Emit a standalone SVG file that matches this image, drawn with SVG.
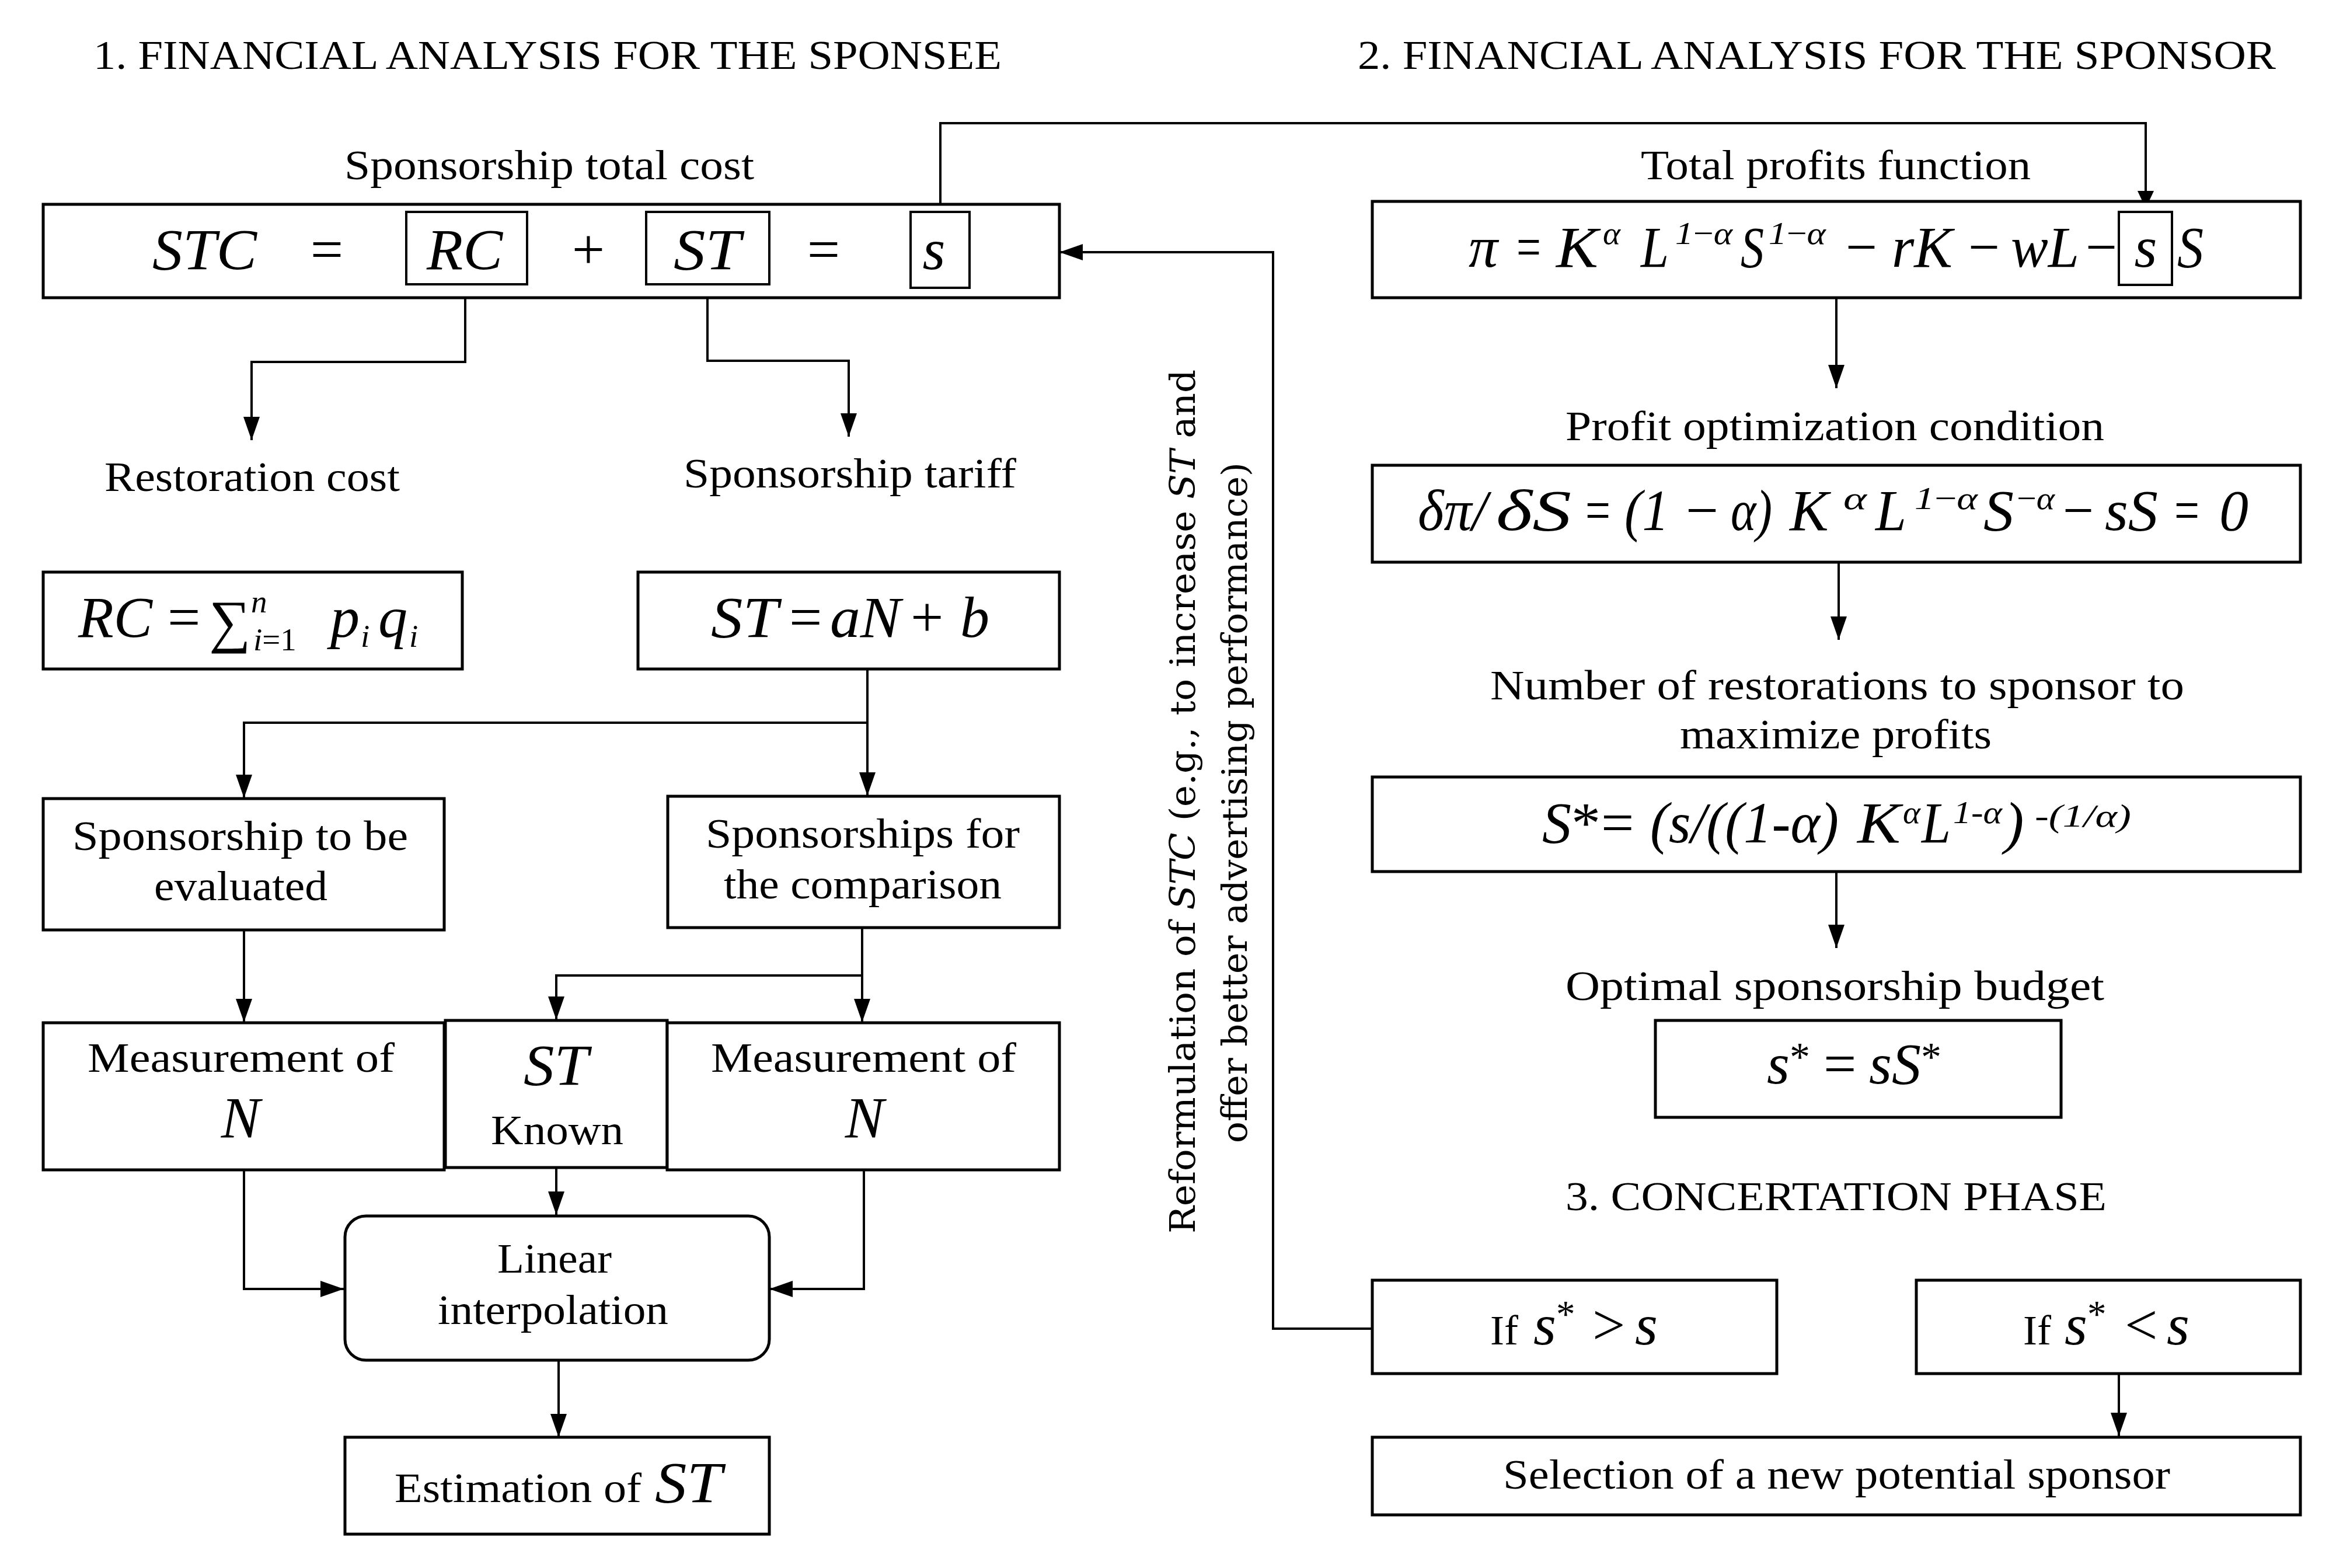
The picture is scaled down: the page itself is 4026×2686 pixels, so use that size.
<svg xmlns="http://www.w3.org/2000/svg" width="4026" height="2686" viewBox="0 0 4026 2686">
<style>
text{font-family:"Liberation Serif","Times New Roman",serif;fill:#000}
.t{font-size:70px}
.l{font-size:72px}
.m{font-size:100px;font-style:italic}
.r{font-style:normal}
.sp{font-size:55px;font-style:italic}
.rot{font-family:"DejaVu Serif","Liberation Serif",serif;font-size:60px}
.box{fill:#fff;stroke:#000;stroke-width:5}
.ib{fill:none;stroke:#000;stroke-width:4}
.c{fill:none;stroke:#000;stroke-width:4}
</style>
<defs>
<marker id="ah" markerUnits="userSpaceOnUse" viewBox="0 0 40 28" markerWidth="40" markerHeight="28" refX="40" refY="14" orient="auto">
<path d="M0,0 L40,14 L0,28 z" fill="#000"/>
</marker>
</defs>
<rect width="4026" height="2686" fill="#fff"/>

<g id="titles">
<text class="t" x="160" y="118" textLength="1556" lengthAdjust="spacingAndGlyphs">1. FINANCIAL ANALYSIS FOR THE SPONSEE</text>
<text class="t" x="2326" y="118" textLength="1573" lengthAdjust="spacingAndGlyphs">2. FINANCIAL ANALYSIS FOR THE SPONSOR</text>
<text class="t" x="2682" y="2073" textLength="927" lengthAdjust="spacingAndGlyphs">3. CONCERTATION PHASE</text>
</g>

<g id="connectors">
<path class="c" d="M1611,363 V211 H3676 V355"/>
<path class="c" d="M3676,345 V363"/>
<polygon points="3662,327 3690,327 3676,357" fill="#000"/>
<path class="c" d="M2351,2276 H2181 V432 H1815" marker-end="url(#ah)"/>
<path class="c" d="M797,487 V620 H431 V754" marker-end="url(#ah)"/>
<path class="c" d="M1212,487 V618 H1454 V748" marker-end="url(#ah)"/>
<path class="c" d="M1486,1146 V1238 H418 V1367" marker-end="url(#ah)"/>
<path class="c" d="M1486,1238 V1363" marker-end="url(#ah)"/>
<path class="c" d="M418,1593 V1751" marker-end="url(#ah)"/>
<path class="c" d="M1477,1589 V1751" marker-end="url(#ah)"/>
<path class="c" d="M1477,1671 H953 V1747" marker-end="url(#ah)"/>
<path class="c" d="M418,2004 V2208 H589" marker-end="url(#ah)"/>
<path class="c" d="M953,2000 V2081" marker-end="url(#ah)"/>
<path class="c" d="M1480,2004 V2208 H1318" marker-end="url(#ah)"/>
<path class="c" d="M957,2330 V2462" marker-end="url(#ah)"/>
<path class="c" d="M3146,510 V665" marker-end="url(#ah)"/>
<path class="c" d="M3150,963 V1096" marker-end="url(#ah)"/>
<path class="c" d="M3146,1493 V1624" marker-end="url(#ah)"/>
<path class="c" d="M3630,2353 V2460" marker-end="url(#ah)"/>
</g>

<g id="feedback-label">
<text class="rot" transform="translate(2047,2113) rotate(-90)" x="0" y="0" textLength="1480" lengthAdjust="spacingAndGlyphs">Reformulation of <tspan font-style="italic">STC</tspan> (e.g., to increase <tspan font-style="italic">ST</tspan> and</text>
<text class="rot" transform="translate(2136,1958) rotate(-90)" x="0" y="0" textLength="1166" lengthAdjust="spacingAndGlyphs">offer better advertising performance)</text>
</g>

<g id="stc">
<text class="l" x="590" y="307" textLength="702" lengthAdjust="spacingAndGlyphs">Sponsorship total cost</text>
<rect class="box" x="74" y="350" width="1741" height="160"/>
<rect class="ib" x="696" y="363" width="207" height="124"/>
<rect class="ib" x="1107" y="363" width="211" height="124"/>
<rect class="ib" x="1560" y="363" width="101" height="130"/>
<text class="m" x="261" y="461" textLength="179" lengthAdjust="spacingAndGlyphs">STC</text>
<text class="m r" x="560" y="461" text-anchor="middle">=</text>
<text class="m" x="731" y="461" textLength="130" lengthAdjust="spacingAndGlyphs">RC</text>
<text class="m r" x="1008" y="461" text-anchor="middle">+</text>
<text class="m" x="1154" y="461" textLength="115" lengthAdjust="spacingAndGlyphs">ST</text>
<text class="m r" x="1411" y="461" text-anchor="middle">=</text>
<text class="m" x="1600" y="461" text-anchor="middle">s</text>
</g>

<g id="restoration-cost">
<text class="l" x="179" y="841" textLength="506" lengthAdjust="spacingAndGlyphs">Restoration cost</text>
</g>
<g id="sponsorship-tariff">
<text class="l" x="1171" y="835" textLength="570" lengthAdjust="spacingAndGlyphs">Sponsorship tariff</text>
</g>

<g id="rc-formula">
<rect class="box" x="74" y="980" width="718" height="166"/>
<text class="m" x="134" y="1091" textLength="127" lengthAdjust="spacingAndGlyphs">RC</text>
<text class="m r" x="287" y="1091">=</text>
<text class="m r" x="358" y="1098" font-size="90">∑</text>
<text class="sp" x="430" y="1049">n</text>
<text class="sp" x="434" y="1114">i<tspan class="r">=</tspan><tspan class="r">1</tspan></text>
<text class="m" x="566" y="1091">p</text>
<text class="sp" x="618" y="1108" font-size="50">i</text>
<text class="m" x="648" y="1091">q</text>
<text class="sp" x="701" y="1108" font-size="50">i</text>
</g>

<g id="st-formula">
<rect class="box" x="1093" y="980" width="722" height="166"/>
<text class="m" x="1218" y="1091" textLength="115" lengthAdjust="spacingAndGlyphs">ST</text>
<text class="m r" x="1352" y="1091">=</text>
<text class="m" x="1422" y="1091" textLength="121" lengthAdjust="spacingAndGlyphs">aN</text>
<text class="m r" x="1560" y="1091">+</text>
<text class="m" x="1645" y="1091">b</text>
</g>

<g id="to-be-evaluated">
<rect class="box" x="74" y="1368" width="687" height="225"/>
<text class="l" x="124" y="1456" textLength="575" lengthAdjust="spacingAndGlyphs">Sponsorship to be</text>
<text class="l" x="264" y="1542" textLength="297" lengthAdjust="spacingAndGlyphs">evaluated</text>
</g>

<g id="for-comparison">
<rect class="box" x="1144" y="1364" width="671" height="225"/>
<text class="l" x="1209" y="1452" textLength="538" lengthAdjust="spacingAndGlyphs">Sponsorships for</text>
<text class="l" x="1240" y="1539" textLength="476" lengthAdjust="spacingAndGlyphs">the comparison</text>
</g>

<g id="measurement-left">
<rect class="box" x="74" y="1752" width="687" height="252"/>
<text class="l" x="150" y="1836" textLength="526" lengthAdjust="spacingAndGlyphs">Measurement of</text>
<text class="m" x="412" y="1948" text-anchor="middle">N</text>
</g>

<g id="st-known">
<rect class="box" x="763" y="1748" width="380" height="252"/>
<text class="m" x="897" y="1858" textLength="111" lengthAdjust="spacingAndGlyphs">ST</text>
<text class="l" x="841" y="1960" textLength="227" lengthAdjust="spacingAndGlyphs">Known</text>
</g>

<g id="measurement-right">
<rect class="box" x="1143" y="1752" width="672" height="252"/>
<text class="l" x="1218" y="1836" textLength="523" lengthAdjust="spacingAndGlyphs">Measurement of</text>
<text class="m" x="1481" y="1948" text-anchor="middle">N</text>
</g>

<g id="linear-interpolation">
<rect class="box" x="591" y="2083" width="727" height="247" rx="36" ry="36"/>
<text class="l" x="852" y="2180" textLength="196" lengthAdjust="spacingAndGlyphs">Linear</text>
<text class="l" x="750" y="2268" textLength="395" lengthAdjust="spacingAndGlyphs">interpolation</text>
</g>

<g id="estimation">
<rect class="box" x="591" y="2462" width="727" height="166"/>
<text class="l" x="676" y="2573" textLength="423" lengthAdjust="spacingAndGlyphs">Estimation of</text>
<text class="m" x="1122" y="2573" textLength="115" lengthAdjust="spacingAndGlyphs">ST</text>
</g>

<g id="profit-function">
<text class="l" x="2811" y="307" textLength="668" lengthAdjust="spacingAndGlyphs">Total profits function</text>
<rect class="box" x="2351" y="345" width="1590" height="165"/>
<rect class="ib" x="3630" y="363" width="91" height="125"/>
<text class="m" x="2516" y="457" textLength="50" lengthAdjust="spacingAndGlyphs">π</text>
<text class="m r" x="2598" y="457" textLength="42" lengthAdjust="spacingAndGlyphs">=</text>
<text class="m" x="2666" y="457" textLength="72" lengthAdjust="spacingAndGlyphs">K</text>
<text class="sp" x="2746" y="418" textLength="30" lengthAdjust="spacingAndGlyphs">α</text>
<text class="m" x="2811" y="457" textLength="48" lengthAdjust="spacingAndGlyphs">L</text>
<text class="sp" x="2870" y="418" textLength="98" lengthAdjust="spacingAndGlyphs">1<tspan class="r">−</tspan>α</text>
<text class="m" x="2982" y="457" textLength="40" lengthAdjust="spacingAndGlyphs">S</text>
<text class="sp" x="3030" y="418" textLength="98" lengthAdjust="spacingAndGlyphs">1<tspan class="r">−</tspan>α</text>
<text class="m r" x="3162" y="457" textLength="54" lengthAdjust="spacingAndGlyphs">−</text>
<text class="m" x="3241" y="457" textLength="104" lengthAdjust="spacingAndGlyphs">rK</text>
<text class="m r" x="3372" y="457" textLength="54" lengthAdjust="spacingAndGlyphs">−</text>
<text class="m" x="3445" y="457" textLength="117" lengthAdjust="spacingAndGlyphs">wL</text>
<text class="m r" x="3573" y="457" textLength="54" lengthAdjust="spacingAndGlyphs">−</text>
<text class="m" x="3676" y="457" text-anchor="middle">s</text>
<text class="m" x="3730" y="457" textLength="45" lengthAdjust="spacingAndGlyphs">S</text>
</g>

<g id="optimization-condition">
<text class="l" x="2682" y="754" textLength="923" lengthAdjust="spacingAndGlyphs">Profit optimization condition</text>
<rect class="box" x="2351" y="797" width="1590" height="166"/>
<text class="m" x="2429" y="908" textLength="119" lengthAdjust="spacingAndGlyphs">δπ/</text>
<text class="m" x="2563" y="908" textLength="129" lengthAdjust="spacingAndGlyphs">δS</text>
<text class="m r" x="2716" y="908" textLength="43" lengthAdjust="spacingAndGlyphs">=</text>
<text class="m" x="2783" y="908" textLength="76" lengthAdjust="spacingAndGlyphs">(1</text>
<text class="m r" x="2888" y="908" textLength="56" lengthAdjust="spacingAndGlyphs">−</text>
<text class="m" x="2965" y="908" textLength="71" lengthAdjust="spacingAndGlyphs">α)</text>
<text class="m" x="3066" y="908">K</text>
<text class="sp" x="3158" y="872" textLength="40" lengthAdjust="spacingAndGlyphs">α</text>
<text class="m" x="3213" y="908" textLength="53" lengthAdjust="spacingAndGlyphs">L</text>
<text class="sp" x="3280" y="872" textLength="108" lengthAdjust="spacingAndGlyphs">1<tspan class="r">−</tspan>α</text>
<text class="m" x="3398" y="908" textLength="52" lengthAdjust="spacingAndGlyphs">S</text>
<text class="sp" x="3455" y="872" textLength="65" lengthAdjust="spacingAndGlyphs"><tspan class="r">−</tspan>α</text>
<text class="m r" x="3534" y="908" textLength="53" lengthAdjust="spacingAndGlyphs">−</text>
<text class="m" x="3606" y="908" textLength="91" lengthAdjust="spacingAndGlyphs">sS</text>
<text class="m r" x="3725" y="908" textLength="43" lengthAdjust="spacingAndGlyphs">=</text>
<text class="m" x="3802" y="908">0</text>
</g>

<g id="optimal-restorations">
<text class="l" x="2553" y="1198" textLength="1189" lengthAdjust="spacingAndGlyphs">Number of restorations to sponsor to</text>
<text class="l" x="2878" y="1282" textLength="534" lengthAdjust="spacingAndGlyphs">maximize profits</text>
<rect class="box" x="2351" y="1331" width="1590" height="162"/>
<text class="m" x="2642" y="1443">S<tspan class="r">*</tspan></text>
<text class="m r" x="2743" y="1443">=</text>
<text class="m" x="2827" y="1443" textLength="323" lengthAdjust="spacingAndGlyphs">(s/((1-α)</text>
<text class="m" x="3182" y="1443" textLength="74" lengthAdjust="spacingAndGlyphs">K</text>
<text class="sp" x="3260" y="1410" textLength="30" lengthAdjust="spacingAndGlyphs">α</text>
<text class="m" x="3292" y="1443" textLength="50" lengthAdjust="spacingAndGlyphs">L</text>
<text class="sp" x="3346" y="1410" textLength="84" lengthAdjust="spacingAndGlyphs">1-α</text>
<text class="m" x="3434" y="1443">)</text>
<text class="sp" x="3486" y="1416" textLength="165" lengthAdjust="spacingAndGlyphs">-(1/α)</text>
</g>

<g id="optimal-budget">
<text class="l" x="2682" y="1713" textLength="923" lengthAdjust="spacingAndGlyphs">Optimal sponsorship budget</text>
<rect class="box" x="2836" y="1748" width="695" height="166"/>
<text class="m" x="3027" y="1856">s<tspan class="r" font-size="70" dy="-22">*</tspan></text>
<text class="m r" x="3124" y="1856">=</text>
<text class="m" x="3202" y="1856">sS<tspan class="r" font-size="70" dy="-22">*</tspan></text>
</g>

<g id="if-greater">
<rect class="box" x="2351" y="2193" width="693" height="160"/>
<text class="l" x="2553" y="2303">If</text>
<text class="m" x="2627" y="2303" font-size="90">s<tspan class="r" font-size="65" dy="-30">*</tspan></text>
<text class="m r" x="2728" y="2303" font-size="80">&gt;</text>
<text class="m" x="2801" y="2303" font-size="90">s</text>
</g>

<g id="if-less">
<rect class="box" x="3283" y="2193" width="658" height="160"/>
<text class="l" x="3466" y="2303">If</text>
<text class="m" x="3537" y="2303" font-size="90">s<tspan class="r" font-size="65" dy="-30">*</tspan></text>
<text class="m r" x="3640" y="2303" font-size="80">&lt;</text>
<text class="m" x="3712" y="2303" font-size="90">s</text>
</g>

<g id="new-sponsor">
<rect class="box" x="2351" y="2462" width="1590" height="133"/>
<text class="l" x="2575" y="2550" textLength="1143" lengthAdjust="spacingAndGlyphs">Selection of a new potential sponsor</text>
</g>
</svg>
